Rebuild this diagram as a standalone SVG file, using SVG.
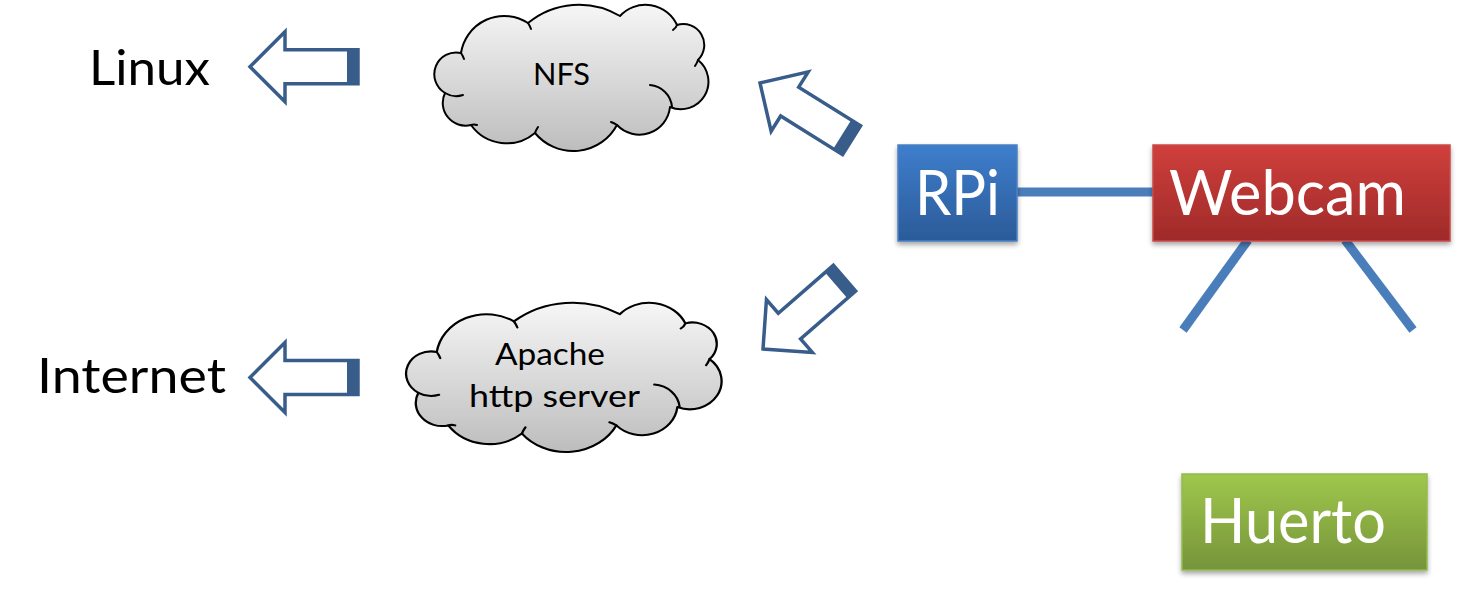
<svg xmlns="http://www.w3.org/2000/svg" width="1458" height="613" viewBox="0 0 1458 613">
<style>
.lbl{font-family:Lato,"Open Sans","Liberation Sans",sans-serif;fill:#000}
.box-t{font-family:Lato,"Open Sans","Liberation Sans",sans-serif;fill:#fff;font-size:62px}
.cloud{stroke:#000;stroke-width:2;stroke-linejoin:round;vector-effect:non-scaling-stroke}
.cloud-in{fill:none;stroke:#000;stroke-width:2;stroke-linecap:round;vector-effect:non-scaling-stroke}
.blk{fill:#fff;stroke:#385D8A;stroke-width:3.5;stroke-linejoin:miter}
.band{fill:#385D8A}
.wire{stroke:#4A7EBB;stroke-width:9;fill:none}
</style>
<defs>
<linearGradient id="gCloud" x1="0" y1="0" x2="0" y2="1">
<stop offset="0" stop-color="#F6F6F6"/><stop offset="1" stop-color="#BDBDBD"/>
</linearGradient>
<linearGradient id="gBlue" x1="0" y1="0" x2="0" y2="1">
<stop offset="0" stop-color="#3E7ECC"/><stop offset="1" stop-color="#2B5B99"/>
</linearGradient>
<linearGradient id="gRed" x1="0" y1="0" x2="0" y2="1">
<stop offset="0" stop-color="#CF3F3C"/><stop offset="1" stop-color="#9F2A29"/>
</linearGradient>
<linearGradient id="gGreen" x1="0" y1="0" x2="0" y2="1">
<stop offset="0" stop-color="#9FC74C"/><stop offset="1" stop-color="#76943A"/>
</linearGradient>
<filter id="sh" x="-10%" y="-10%" width="120%" height="130%">
<feDropShadow dx="0" dy="3" stdDeviation="2.5" flood-color="#000" flood-opacity="0.35"/>
</filter>
<path id="cloudShape" d="M461,53 A43.7,43.7 0 0 1 528,23 A80,80 0 0 1 620,16 A34.6,34.6 0 0 1 677,25 A21,21 0 0 1 698,60 A27.6,27.6 0 0 1 670,107 A30.8,30.8 0 0 1 617,125 A49.6,49.6 0 0 1 535,133 A44,44 0 0 1 471,125 A22.8,22.8 0 0 1 445,93 A21.8,21.8 0 0 1 461,53 Z"/>
<path id="cloudInner" d="M463,95 A21.8,21.8 0 0 1 445,93 M650,85 A24,24 0 0 1 672,107 M528,23 Q530,26 531,29 M677,25 Q676,28 673,30 M698,60 Q697,63 695,66 M617,125 Q614,123 611,122 M535,133 Q536,130 538,127 M471,125 Q474,124 477,125 M461,53 Q463,56 464,59"/>
<g id="blockArrow">
<path class="blk" d="M0,0 L35,-35 L35,-17 L108,-17 L108,17 L35,17 L35,35 Z"/>
<rect class="band" x="97" y="-17" width="11" height="34"/>
</g>
</defs>

<g id="connectors">
<line class="wire" x1="1016" y1="192" x2="1154" y2="192"/>
<line class="wire" x1="1248" y1="240" x2="1183" y2="330"/>
<line class="wire" x1="1345" y1="240" x2="1413" y2="330"/>
<use href="#blockArrow" transform="translate(250,66.7)"/>
<use href="#blockArrow" transform="translate(250,377.5)"/>
<use href="#blockArrow" transform="translate(760,83) rotate(32)"/>
<use href="#blockArrow" transform="translate(763,349) rotate(-41)"/>
</g>

<g id="node-linux">
<text class="lbl" x="89" y="85" font-size="49" textLength="121" lengthAdjust="spacingAndGlyphs">Linux</text>
</g>
<g id="node-internet">
<text class="lbl" x="37" y="393" font-size="49" textLength="189" lengthAdjust="spacingAndGlyphs">Internet</text>
</g>

<g id="node-nfs">
<use href="#cloudShape" class="cloud" fill="url(#gCloud)"/>
<use href="#cloudInner" class="cloud-in"/>
<text class="lbl" x="533" y="85" font-size="30" textLength="57" lengthAdjust="spacingAndGlyphs">NFS</text>
</g>

<g id="node-apache">
<g transform="translate(408,303) scale(1.151,1.02) translate(-436,-5)">
<use href="#cloudShape" class="cloud" fill="url(#gCloud)"/>
<use href="#cloudInner" class="cloud-in"/>
</g>
<text class="lbl" x="495" y="365" font-size="30" textLength="110" lengthAdjust="spacingAndGlyphs">Apache</text>
<text class="lbl" x="469" y="407" font-size="30" textLength="171" lengthAdjust="spacingAndGlyphs">http server</text>
</g>

<g id="node-rpi">
<rect x="898" y="145" width="119" height="96" fill="url(#gBlue)" stroke="#4A80C4" stroke-width="1.5" filter="url(#sh)"/>
<text class="box-t" x="915" y="215" textLength="85" lengthAdjust="spacingAndGlyphs">RPi</text>
</g>

<g id="node-webcam">
<rect x="1153" y="145" width="297" height="96" fill="url(#gRed)" stroke="#C94A47" stroke-width="1.5" filter="url(#sh)"/>
<text class="box-t" x="1169" y="215" textLength="237" lengthAdjust="spacingAndGlyphs">Webcam</text>
</g>

<g id="node-huerto">
<rect x="1182" y="474" width="245" height="96" fill="url(#gGreen)" stroke="#93BA4E" stroke-width="1.5" filter="url(#sh)"/>
<text class="box-t" x="1200" y="543" textLength="186" lengthAdjust="spacingAndGlyphs">Huerto</text>
</g>
</svg>
